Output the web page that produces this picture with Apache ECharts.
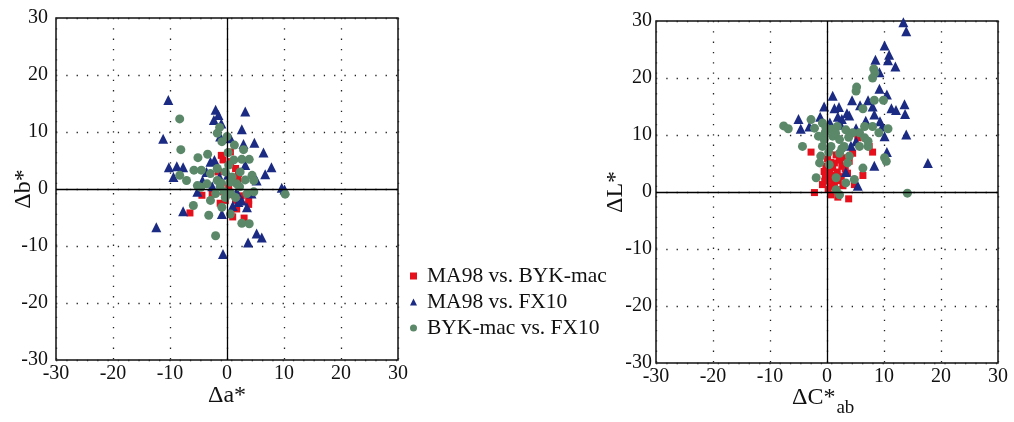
<!DOCTYPE html>
<html><head><meta charset="utf-8">
<script src="https://cdn.jsdelivr.net/npm/echarts@6/dist/echarts.min.js"></script>
<style>html,body{margin:0;padding:0;background:#fff}#c{width:1014px;height:422px}</style>
</head><body><div id="c"></div>
<script>
// Left plot: Δa* vs Δb*
const abRed = [[-1,5.9],[-0.7,5.1],[0.6,6.5],[0.6,4.8],[1.5,3.6],[2,2.7],[1.2,1.8],[1.9,1.5],[-4.4,-1.1],[-2.6,-0.9],[-6.5,-4.2],[-0.3,-2],[1.5,-2],[1.7,-3.5],[3.8,-2],[3.8,-2.7],[3,-5.1],[1,-4.9],[-0.6,-0.5],[0.3,0.4],[-1.5,3],[0.8,-1],[2.5,-1.2],[-1.2,-2.5]];
const abBlue = [[-10.3,15.6],[-2,13.9],[3.2,13.6],[-2.3,12.1],[-1,11.5],[-11.2,8.8],[2.6,10.5],[0.6,8.9],[4.8,8.1],[2.9,7.9],[6.4,6.4],[-10.2,3.8],[-8.8,4],[-7.7,3.8],[-9.4,2.1],[7.8,3.8],[6.7,2.6],[9.6,0.2],[10.1,-0.1],[-12.4,-6.7],[-7.7,-3.9],[-5.2,-0.5],[-0.7,-11.4],[5.2,-7.8],[6.1,-8.5],[3.7,-9.4],[-2.9,4.8],[-2.2,5.1],[3.5,-3.2],[2.6,-2],[2,-2.3],[-3.6,3],[-4.3,1.5],[-1.3,2.1],[-0.9,-4.4],[3.2,4.2],[5.2,1.5],[1.7,-0.5],[4.3,-0.8],[-1.2,9.2],[-1.5,13],[-2.6,0.5],[0.2,2.5],[1,-3]];
const abGreen = [[-8.3,12.3],[-8.1,6.9],[-1.3,10.8],[-1.7,9.8],[-0.9,8.3],[0,9.2],[1.3,7.7],[2.9,6.9],[0.2,6.4],[-5.1,5.5],[-3.4,6.1],[1.2,5.1],[2.6,5.2],[3.9,5.2],[-5.8,3.3],[-4.5,3.3],[-8.3,2.4],[-7.1,1.5],[-5.2,0.6],[-2.9,2.7],[-1.7,3.6],[-0.3,3],[0.9,2.1],[2.3,3],[4.4,2.4],[4.7,1.5],[1.7,0.9],[3.5,-0.8],[4.7,-0.5],[-2.9,-2],[-2,-0.8],[-1.2,0.4],[-0.5,-0.5],[0.7,-0.8],[2.2,0.4],[-5.9,-2.9],[-3.2,-4.6],[-0.9,-3.2],[0.6,-4.4],[2.6,-6],[3.9,-6.1],[-2,-8.2],[10.2,-0.9],[3.2,1.6],[-3.5,0.9],[-4.6,0.3],[-1.7,1.5],[0.3,4.2],[-1,1],[0.5,1.2],[-0.3,-1.5],[1.5,-1.5]];
// Right plot: ΔC*ab vs ΔL*
const clRed = [[-2.8,7],[8,7],[7.4,8],[5.4,9.5],[6.3,2.9],[-2.2,-0.1],[1.9,-0.9],[3.8,-1.2],[0.7,-0.5],[-0.2,4.5],[0.4,3.9],[1.3,5.1],[-0.3,2.7],[0.4,2.2],[1.3,1.6],[2.5,2.7],[3.6,3.3],[3.9,5.4],[4.5,6.8],[2.6,4.5],[4.8,1.3],[-0.8,1.3],[1.7,0.4],[0.7,1],[0.5,3.2],[1.8,3.5],[1,4.3],[2,2],[0.2,0.5],[2.9,6],[-0.5,3.6],[1.4,2.5],[0.1,5.8],[2.2,5.6],[3.2,4],[1.1,2.9],[-0.4,1.9],[2.8,1.1],[0.6,5.2],[1.6,6.5]];
const clBlue = [[13.4,29.8],[13.9,28.2],[10.1,25.7],[10.9,24.1],[10.7,23.1],[12,22],[8.5,23.2],[9.2,21],[9.2,18.1],[10.5,17.1],[1,16.9],[4.4,16.1],[7.2,16.1],[5.8,15.2],[8,15],[-0.5,15],[1.3,14.7],[2.1,14.9],[11.3,14.7],[12.1,14.4],[13.6,15.4],[13.7,13.7],[-5,12.8],[-1.2,13.2],[1.9,13.2],[3.9,13.4],[2.6,12.8],[8.3,13.6],[9.3,12.4],[-4.6,11.1],[-3.1,11.5],[0.5,12.2],[9.7,11.5],[13.9,10.1],[10.1,9.8],[10.5,7],[8.3,4.6],[17.7,5.1],[5.4,1.1],[3.3,3.5],[5.1,11.2],[2.4,11.8],[4.2,8.1],[5.1,8.9],[3.5,13.8],[6.8,12.5]];
const clGreen = [[8.2,21.6],[8.4,20.9],[8,20],[5.2,18.4],[5.1,17.7],[6.3,14.6],[8.3,16.1],[9.9,16.1],[-7.6,11.6],[-6.8,11.1],[-2.8,12.7],[-2.2,11.2],[-4.3,8],[-0.8,12.1],[0.8,11],[3.3,10.9],[6.6,11.5],[8,11.5],[10.7,11.1],[9.1,10.4],[5.7,10.4],[6.6,9.5],[7.2,8],[10.1,6],[10.4,5.4],[-1.1,6.3],[-0.8,8],[0.7,8],[2.2,6.8],[3.9,6.3],[3.6,5.1],[6.3,4.2],[-1.3,5.1],[-1.9,2.5],[1.6,2.5],[3.3,1.6],[4.8,2.2],[1.6,0.4],[2.2,-0.5],[14.1,-0.2],[1,9.8],[-0.5,9.2],[2.2,9.2],[4.5,10.4],[0.4,4.8],[5.7,8],[7.2,8.9],[-0.3,10.5],[1.8,11.5],[3,8],[-1.5,9.8],[0.3,7],[-0.2,11.3],[1.5,10.3],[3.8,9.6],[2.6,7.6]];
const tickVals = [-30,-20,-10,0,10,20,30];
const legendNames = ['MA98 vs. BYK-mac','MA98 vs. FX10','BYK-mac vs. FX10'];
const axisNames = ['Δa*','Δb*','ΔC*','ab','ΔL*'];

const RED='#e5101c', BLUE='#1b2a82', GREEN='#5a8868';
const FONT='Liberation Serif';
const chart = echarts.init(document.getElementById('c'));
function axis(gi, isX, margin, name, gap){
  return {
    gridIndex: gi, type:'value', min:tickVals[0], max:tickVals[tickVals.length-1], interval:10,
    axisLine:{show:false}, axisTick:{show:false},
    axisLabel:{color:'#111', fontFamily:FONT, fontSize:20, margin: margin, padding: isX?0:[0,0,6,0]},
    splitLine:{show:true, lineStyle:{color:'#222', width:1.3, type:[1.3,9]}},
    name: name || '', nameLocation:'middle', nameGap: gap || 0, nameRotate: isX?0:90,
    nameMoveOverlap:false,
    nameTextStyle:{fontFamily:FONT, fontSize:24, color:'#111'}
  };
}
function zeroLine(){
  return {silent:true, symbol:'none', label:{show:false},
    lineStyle:{color:'#000', width:1.3, type:'solid'},
    data:[{xAxis:0},{yAxis:0}], animation:false};
}
function sc(name, data, gi, sym, size, color, ml){
  const s = {name, type:'scatter', xAxisIndex:gi, yAxisIndex:gi, data,
    symbol:sym, symbolSize:size, itemStyle:{color, opacity:1}, animation:false};
  if(ml) s.markLine = zeroLine();
  return s;
}
chart.setOption({
  backgroundColor:'#fff',
  animation:false,
  grid:[
    {left:56, top:18, width:342, height:342, show:true, containLabel:false, outerBoundsMode:'none', borderColor:'#111', borderWidth:1.5, backgroundColor:'transparent'},
    {left:656, top:21, width:342, height:342, show:true, containLabel:false, outerBoundsMode:'none', borderColor:'#111', borderWidth:1.5, backgroundColor:'transparent'}
  ],
  xAxis:[axis(0,true,4,axisNames[0],24), axis(1,true,4)],
  yAxis:[axis(0,false,8,axisNames[1],20), axis(1,false,4,axisNames[4],28)],
  legend:{
    data:legendNames, orient:'vertical', left:405, top:260, itemGap:4,
    itemWidth:7, itemHeight:7,
    textStyle:{fontFamily:FONT, fontSize:21.5, color:'#111', padding:[0,0,0,5]}
  },
  graphic:[
    {type:'text', left:792, top:386, style:{text:'{a|'+axisNames[2]+'}{b|'+axisNames[3]+'}', rich:{a:{fontFamily:FONT, fontSize:24, fill:'#111'}, b:{fontFamily:FONT, fontSize:19, fill:'#111', padding:[20,0,0,1]}}}}
  ],
  series:[
    sc(legendNames[0], abRed, 0, 'rect', 7, RED, true),
    sc(legendNames[1], abBlue, 0, 'triangle', 10, BLUE),
    sc(legendNames[2], abGreen, 0, 'circle', 9, GREEN),
    sc(legendNames[0], clRed, 1, 'rect', 7, RED, true),
    sc(legendNames[1], clBlue, 1, 'triangle', 10, BLUE),
    sc(legendNames[2], clGreen, 1, 'circle', 9, GREEN)
  ]
});
</script></body></html>
